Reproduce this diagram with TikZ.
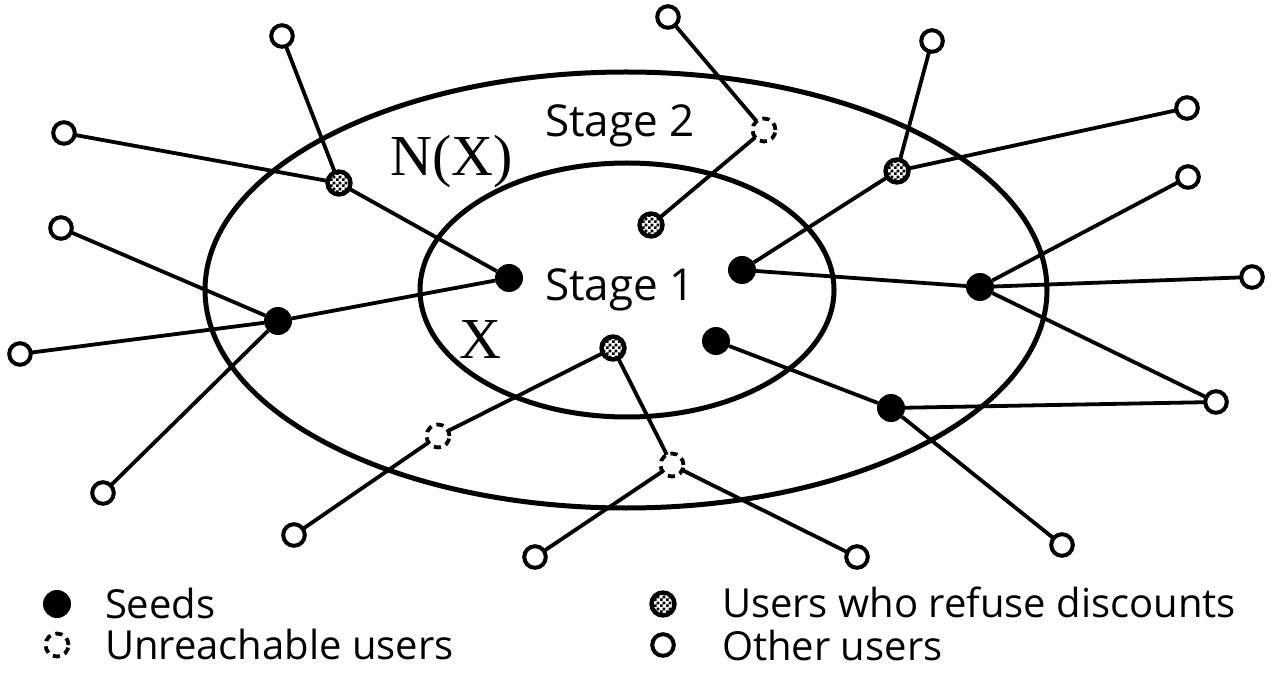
\documentclass[tikz,border=0pt]{standalone}
\usepackage{fontspec}
\setmainfont{Open Sans}
\newfontfamily\serifX{Liberation Serif}
\usetikzlibrary{patterns}
\pgfdeclarepatternformonly{finechecks}{\pgfpointorigin}{\pgfqpoint{3pt}{3pt}}{\pgfqpoint{3pt}{3pt}}{%
  \pgfpathrectangle{\pgfpointorigin}{\pgfqpoint{1.5pt}{1.5pt}}%
  \pgfpathrectangle{\pgfqpoint{1.5pt}{1.5pt}}{\pgfqpoint{1.5pt}{1.5pt}}%
  \pgfusepath{fill}}

\begin{document}
\begin{tikzpicture}[x=0.5pt,y=-0.5pt,inner sep=0pt,outer sep=0pt,
  seed/.style={circle,fill=black,minimum size=14pt},
  refuse/.style={circle,draw,line width=2.2pt,minimum size=11.5pt,preaction={fill=white},pattern=finechecks,pattern color=black},
  unreach/.style={circle,draw,line width=1.9pt,dash pattern=on 3.6pt off 2.6pt,fill=white,minimum size=11.5pt},
  other/.style={circle,draw,line width=2pt,fill=white,minimum size=10.8pt},
  link/.style={line width=1.9pt},
  ring/.style={line width=2.5pt},
  lab/.style={font=\fontsize{20}{22}\selectfont},
  stagelab/.style={font=\fontsize{22}{24}\selectfont,anchor=base},
  mathlab/.style={font=\serifX\fontsize{29}{31}\selectfont}]
\useasboundingbox (0,0) rectangle (1273,673);
\draw[ring] (626,290) ellipse [x radius=421, y radius=218];
\draw[ring] (627,290) ellipse [x radius=207, y radius=127];

\node[seed] (seedA) at (509,278) {};
\node[seed] (seedB) at (742,270) {};
\node[seed] (seedC) at (716,341) {};
\node[seed] (seedD) at (278,321) {};
\node[seed] (seedE) at (980,287) {};
\node[seed] (seedF) at (891,408) {};

\node[refuse] (refA) at (339,183) {};
\node[refuse] (refB) at (651,225) {};
\node[refuse] (refC) at (897,171) {};
\node[refuse] (refD) at (613,348) {};

\node[unreach] (unrA) at (764,130) {};
\node[unreach] (unrB) at (438,436) {};
\node[unreach] (unrC) at (672,465) {};

\node[other] (othA) at (282,36) {};
\node[other] (othB) at (64,133) {};
\node[other] (othC) at (61,228) {};
\node[other] (othD) at (20,354) {};
\node[other] (othE) at (103,493) {};
\node[other] (othF) at (294,535) {};
\node[other] (othG) at (535,557) {};
\node[other] (othH) at (857,557) {};
\node[other] (othI) at (1062,545) {};
\node[other] (othJ) at (1216,402) {};
\node[other] (othK) at (1252,277) {};
\node[other] (othL) at (1188,177) {};
\node[other] (othM) at (1187,108) {};
\node[other] (othN) at (932,41) {};
\node[other] (othO) at (668,17) {};

\draw[link] (othA) -- (refA) -- (seedA);
\draw[link] (othB) -- (refA);
\draw[link] (othC) -- (seedD) -- (seedA);
\draw[link] (othD) -- (seedD) -- (othE);
\draw[link] (othO) -- (unrA) -- (refB);
\draw[link] (othN) -- (refC) -- (seedB);
\draw[link] (refC) -- (othM);
\draw[link] (seedB) -- (seedE) -- (othL);
\draw[link] (seedE) -- (othK);
\draw[link] (seedE) -- (othJ) -- (seedF);
\draw[link] (seedC) -- (seedF) -- (othI);
\draw[link] (refD) -- (unrB) -- (othF);
\draw[link] (refD) -- (unrC) -- (othG);
\draw[link] (unrC) -- (othH);

\node[stagelab] (stageTwo) at (620,137) {Stage 2};
\node[stagelab] (stageOne) at (620,301) {Stage 1};
\node[mathlab] (nbX) at (452,162) {N(X)};
\node[mathlab] (setX) at (480,340) {X};

\node[seed] (keySeed) at (57,604) {};
\node[unreach] (keyUnr) at (57,645) {};
\node[refuse] (keyRef) at (663,604) {};
\node[other] (keyOth) at (663,645) {};
\node[lab,anchor=base west] (txtSeed) at (105,618) {Seeds};
\node[lab,anchor=base west] (txtUnr) at (105,659) {Unreachable users};
\node[lab,anchor=base west] (txtRef) at (722,617) {Users who refuse discounts};
\node[lab,anchor=base west] (txtOth) at (722,660) {Other users};
\end{tikzpicture}
\end{document}
